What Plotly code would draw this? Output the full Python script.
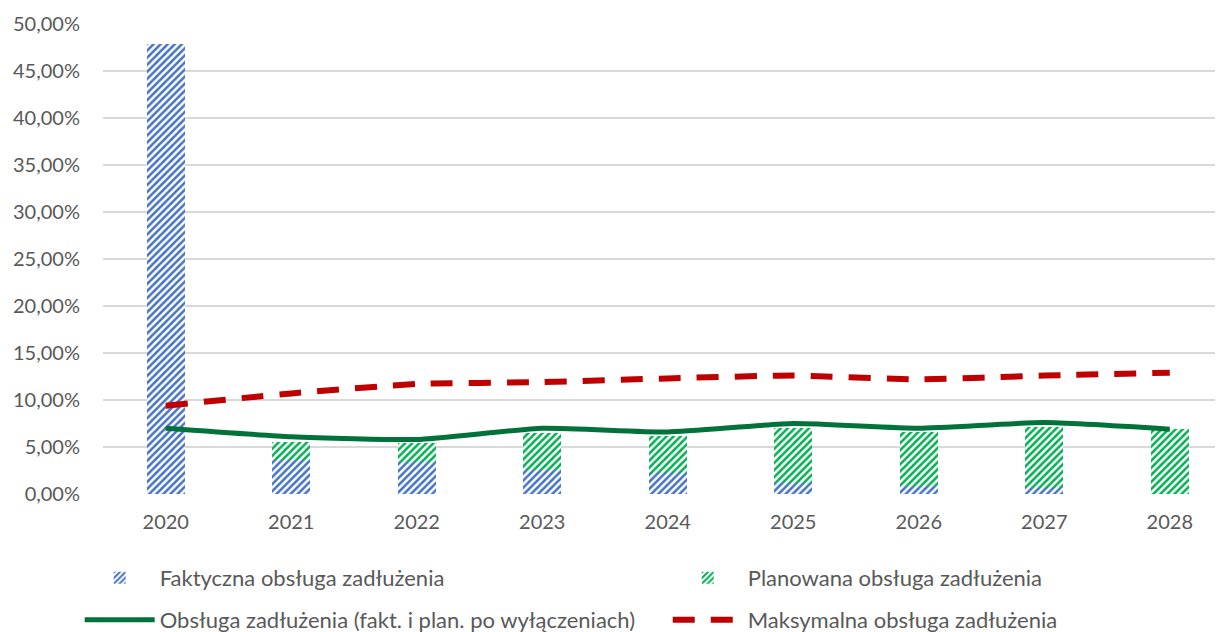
import plotly.graph_objects as go

years = ["2020", "2021", "2022", "2023", "2024", "2025", "2026", "2027", "2028"]
faktyczna = [47.9, 3.6, 3.4, 2.55, 2.2, 1.2, 0.9, 0.6, 0.0]
planowana = [0.0, 1.9, 2.0, 3.95, 4.0, 5.8, 5.7, 6.5, 6.9]
obsluga = [7.0, 6.1, 5.8, 7.0, 6.6, 7.5, 7.0, 7.6, 6.9]
maksymalna = [9.4, 10.7, 11.7, 11.9, 12.3, 12.6, 12.2, 12.6, 12.9]
y_ticks = [0, 5, 10, 15, 20, 25, 30, 35, 40, 45, 50]
y_ticktext = [f"{v:.2f}%".replace(".", ",") for v in y_ticks]

font = "Lato"
gray = "#595959"
W, H = 1215, 624

fig = go.Figure()
fig.add_trace(go.Bar(
    x=years, y=faktyczna, name="Faktyczna obsługa zadłużenia",
    marker=dict(color="white", line=dict(width=0),
                pattern=dict(shape="/", fgcolor="#4472C4", bgcolor="white",
                             fgopacity=1, size=5, solidity=0.5)),
    width=0.3, legend="legend", showlegend=True))
fig.add_trace(go.Bar(
    x=years, y=planowana, name="Planowana obsługa zadłużenia",
    marker=dict(color="white", line=dict(width=0),
                pattern=dict(shape="/", fgcolor="#00B050", bgcolor="white",
                             fgopacity=1, size=5, solidity=0.5)),
    width=0.3, legend="legend2", showlegend=True))
fig.add_trace(go.Scatter(
    x=years, y=obsluga, name="Obsługa zadłużenia (fakt. i plan. po wyłączeniach)",
    mode="lines", line=dict(color="#00723A", width=5, shape="spline", smoothing=0.5),
    legend="legend3", showlegend=True))
fig.add_trace(go.Scatter(
    x=years, y=maksymalna, name="Maksymalna obsługa zadłużenia",
    mode="lines", line=dict(color="#C00000", width=6, dash="22px,16px", shape="spline", smoothing=0.5),
    legend="legend4", showlegend=True))

def leg(x, y):
    return dict(orientation="h", xref="container", yref="container",
                x=x, y=y, xanchor="left", yanchor="middle", itemwidth=70,
                font=dict(size=22, color=gray, family=font), bgcolor="rgba(0,0,0,0)")

fig.update_layout(
    width=W, height=H,
    showlegend=True,
    margin=dict(l=95, r=0, t=16, b=138, autoexpand=False),
    paper_bgcolor="white", plot_bgcolor="white",
    barmode="stack",
    font=dict(family=font, color=gray, size=18),
    xaxis=dict(range=[-0.5, 8.424], showgrid=False, showline=False, ticks="",
               automargin=False, ticklabelstandoff=14,
               tickfont=dict(size=20, color=gray, family=font)),
    yaxis=dict(range=[0, 50], tickvals=y_ticks, ticktext=y_ticktext,
               showgrid=True, gridcolor="#D9D9D9", gridwidth=1.5, zeroline=False,
               automargin=False, showline=False, ticks="", ticklabelstandoff=22,
               tickfont=dict(size=20, color=gray, family=font)),
    legend=leg(0.059, 0.0865),
    legend2=leg(0.543, 0.0865),
    legend3=leg(0.059, 0.0192),
    legend4=leg(0.543, 0.0192),
)

fig.write_html("out.html")
